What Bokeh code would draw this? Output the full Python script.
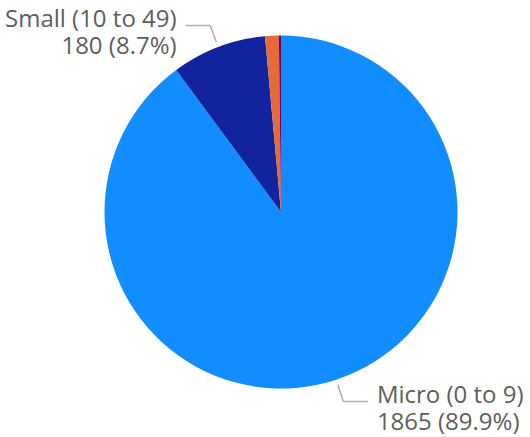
import numpy as np
from bokeh.plotting import figure
from bokeh.models import Range1d, ColumnDataSource
from bokeh.core.properties import value
from bokeh.embed import file_html
from bokeh.resources import INLINE

# ---- data ----
categories = ["Micro (0 to 9)", "Small (10 to 49)", "Medium (50 to 249)", "Large (250+)"]
counts = [1865, 180, 26, 4]
colors = ["#118DFF", "#12239E", "#E66C37", "#6B007B"]
show_label = [True, True, False, False]

# ---- layout (pixels) ----
W, H = 530, 437
cx, cy, R = 280.5, 211.5, 176.5  # pie centre & radius in figure pixels

p = figure(width=W, height=H, output_backend="svg", toolbar_location=None,
           x_range=Range1d(-cx / R, (W - cx) / R),
           y_range=Range1d(-(H - cy) / R, cy / R),
           min_border=0)
p.axis.visible = False
p.grid.visible = False
p.outline_line_color = None
p.background_fill_color = "white"
p.border_fill_color = "white"

vals = np.array(counts, dtype=float)
frac = vals / vals.sum()
cum = np.concatenate([[0], np.cumsum(frac)])
start = np.pi / 2 - 2 * np.pi * cum[:-1]
end = np.pi / 2 - 2 * np.pi * cum[1:]

src = ColumnDataSource(dict(start=start, end=end, color=colors))
p.wedge(x=0, y=0, radius=1, start_angle="start", end_angle="end",
        direction="clock", fill_color="color", line_color=None, source=src)

font = value("Open Sans")
txt_color = "#605E5C"
for i, cat in enumerate(categories):
    if not show_label[i]:
        continue
    mid = (start[i] + end[i]) / 2
    ux, uy = np.cos(mid), np.sin(mid)
    x0, y0 = 1.03 * ux, 1.03 * uy
    x1, y1 = 1.13 * ux, 1.13 * uy
    side = 1 if ux >= 0 else -1
    x2 = x1 + side * 0.14
    p.line([x0, x1, x2], [y0, y1, y1], line_color="#AEAEAE", line_width=1.5)
    tx = x2 + side * 0.05
    align = "left" if side > 0 else "right"
    pct = f"{counts[i]} ({frac[i]*100:.1f}%)"
    p.text(x=[tx], y=[y1], text=[cat], text_font=font, text_font_size="24px",
           text_color=txt_color, text_align=align, text_baseline="middle",
           y_offset=-8)
    p.text(x=[tx], y=[y1], text=[pct], text_font=font, text_font_size="24px",
           text_color=txt_color, text_align=align, text_baseline="middle",
           y_offset=19)

open("out.html", "w").write(file_html(p, INLINE))
